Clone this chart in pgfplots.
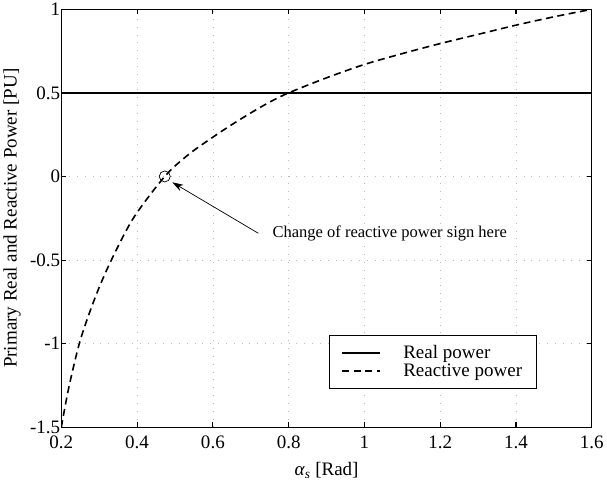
\documentclass[border=0pt]{standalone}
\usepackage{pgfplots}
\pgfplotsset{compat=1.18}
\usepackage{fontspec}
\setmainfont{Liberation Serif}
\usetikzlibrary{arrows.meta}

\begin{document}
\begin{tikzpicture}
\begin{axis}[
    scale only axis,
    width=528bp, height=416bp,
    xmin=0.2, xmax=1.6, ymin=-1.5, ymax=1,
    xtick={0.2,0.4,...,1.6},
    ytick={-1.5,-1,...,1},
    xticklabels={0.2,0.4,0.6,0.8,1,1.2,1.4,1.6},
    yticklabels={-1.5,-1,-0.5,0,0.5,1},
    tick align=inside,
    major tick length=5bp,
    tick style={black, line width=1bp},
    axis line style={line width=1.3bp},
    grid=major,
    grid style={gray!55, line width=0.6bp, dash pattern=on 0.8bp off 7bp},
    ticklabel style={font=\fontsize{19}{22}\selectfont},
    yticklabel style={inner xsep=1bp, inner ysep=3bp},
    xticklabel style={inner ysep=1bp, yshift=-7bp},
    every axis y label/.style={at={(axis description cs:-0.093,0.5)}, rotate=90, anchor=center},
    every axis x label/.style={at={(axis description cs:0.5,-0.103)}, anchor=center},
    ylabel={\fontsize{19}{22}\selectfont Primary Real and Reactive Power [PU]},
    xlabel={\fontsize{19}{22}\selectfont\textit{α}\textsubscript{\textit{s}} [Rad]},
    legend style={at={(0.504,0.221)}, anchor=north west, draw=black, line width=1.2bp,
        fill=white, font=\fontsize{19}{19}\selectfont, inner xsep=12bp, inner ysep=8bp,
        row sep=0bp, cells={anchor=west}},
    legend image code/.code={\draw[#1] (0bp,0bp) -- (38bp,0bp);},
]
\addplot[black, line width=1.7bp] coordinates {(0.2,0.5) (1.6,0.5)};
\addlegendentry{\hspace{20bp}Real power}
\addplot[black, line width=1.6bp, dash pattern=on 7bp off 4.5bp, smooth, tension=0.5] coordinates {
    (0.20,-1.50) (0.22,-1.26) (0.25,-0.98) (0.29,-0.72) (0.33,-0.51)
    (0.39,-0.25) (0.473,0.00) (0.535,0.13) (0.60,0.235) (0.65,0.31)
    (0.70,0.38) (0.75,0.445) (0.80,0.50) (0.90,0.59) (1.00,0.67) (1.10,0.735)
    (1.20,0.795) (1.30,0.85) (1.40,0.905) (1.50,0.955) (1.60,1.00)
};
\addlegendentry{\hspace{20bp}Reactive power}
\addplot[black, line width=0.7bp, mark=o, mark size=5.5bp, only marks, forget plot] coordinates {(0.473,0)};
\draw[line width=0.7bp, -{Stealth[length=11bp, width=7bp]}] (axis cs:0.72,-0.34) -- (axis cs:0.493,-0.035);
\node[anchor=west, inner sep=0pt, font=\fontsize{16.5}{18}\selectfont] at (axis cs:0.757,-0.34) {Change of reactive power sign here};
\end{axis}
\end{tikzpicture}
\end{document}
